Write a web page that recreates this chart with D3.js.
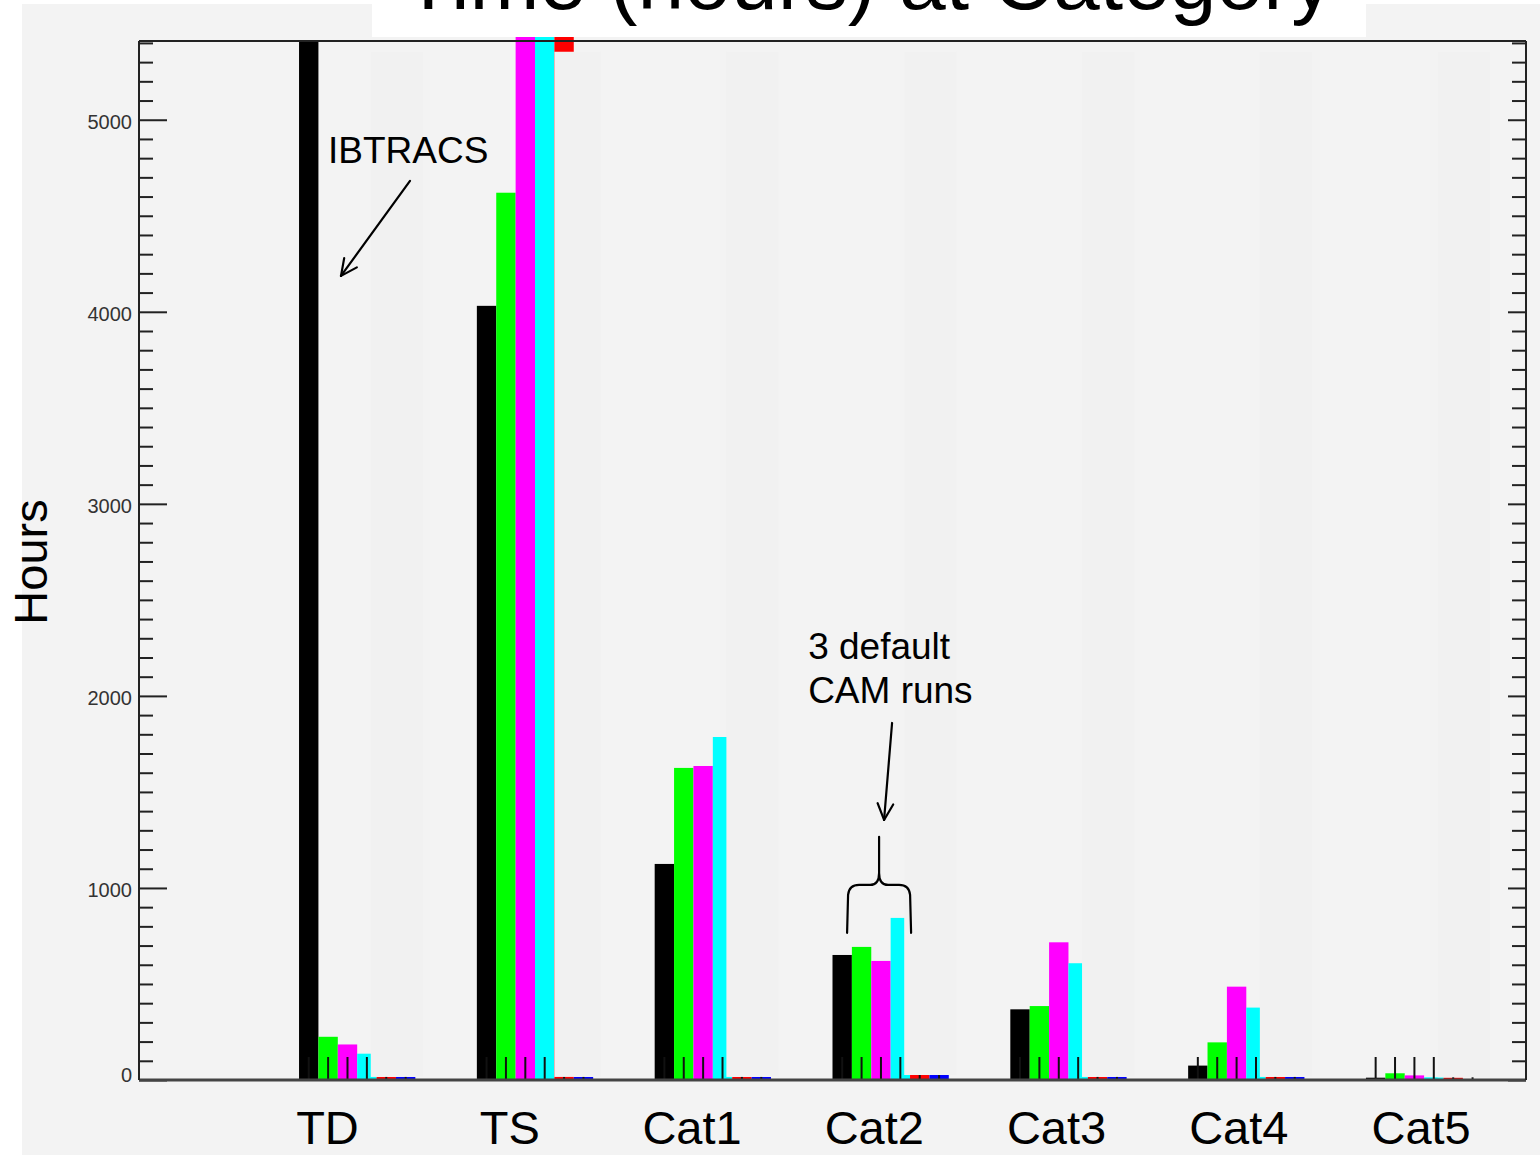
<!DOCTYPE html>
<html>
<head>
<meta charset="utf-8">
<script src="https://cdn.jsdelivr.net/npm/d3@7"></script>
<style>
  html, body { margin: 0; padding: 0; background: #ffffff; }
  svg { display: block; }
</style>
</head>
<body>
<script>
// ---- data -------------------------------------------------------------
const categories = ["TD", "TS", "Cat1", "Cat2", "Cat3", "Cat4", "Cat5"];

// hours spent in each intensity category
const ibtracs   = [5410, 4031, 1125, 651, 368, 75, 12];
const camRun1   = [225, 4620, 1625, 693, 385, 196, 35];
const camRun2   = [185, 5700, 1635, 620, 717, 486, 24];
const camRun3   = [137, 5700, 1786, 844, 608, 377, 14];
const extraRunA = [16, 5700, 16, 26, 16, 16, 12];
const extraRunB = [16, 16, 16, 26, 16, 16, 0];

const seriesValues = [ibtracs, camRun1, camRun2, camRun3, extraRunA, extraRunB];
const seriesColors = ["#000000", "#00ff00", "#ff00ff", "#00ffff", "#ff0000", "#0000ff"];

const yMajorTicks = [0, 1000, 2000, 3000, 4000, 5000];
const yMinorStep = 100;
const yMax = 5410;

// ---- layout -----------------------------------------------------------
const W = 1540, H = 1155;
const plot = { left: 139, right: 1526, top: 41, bottom: 1080 };
const barFrac = 0.109;           // width of one bar in category units
const font = "'Liberation Sans', Arial, Helvetica, sans-serif";

const svg = d3.select("body").append("svg")
  .attr("width", W).attr("height", H);

// page background: white margin at top/left, light grey slide
svg.append("rect").attr("width", W).attr("height", H).attr("fill", "#ffffff");
svg.append("rect").attr("x", 22).attr("y", 4).attr("width", W - 22).attr("height", H - 4)
  .attr("fill", "#f3f3f3");

const x = d3.scaleLinear().domain([-0.9, 6.9]).range([plot.left, plot.right]);
const y = d3.scaleLinear().domain([0, yMax]).range([plot.bottom, plot.top]);
const bw = x(barFrac) - x(0);

// clip bars to the plot image area (the title box sits above it)
svg.append("defs").append("clipPath").attr("id", "barClip")
  .append("rect")
  .attr("x", plot.left).attr("y", 37)
  .attr("width", plot.right - plot.left).attr("height", plot.bottom - 37);

const bars = [];
categories.forEach((c, i) => {
  seriesValues.forEach((vals, s) => {
    bars.push({ cat: c, i, s, v: vals[i] });
  });
});

const gBars = svg.append("g").attr("clip-path", "url(#barClip)");
gBars.selectAll("rect.bar").data(bars).join("rect")
  .attr("class", "bar")
  .attr("x", d => x(d.i + d.s * barFrac))
  .attr("width", bw)
  .attr("y", d => y(d.v))
  .attr("height", d => y(0) - y(d.v))
  .attr("fill", d => seriesColors[d.s]);

// short histogram ticks at the centre of every bar
gBars.selectAll("line.binTick").data(bars).join("line")
  .attr("class", "binTick")
  .attr("x1", d => x(d.i + (d.s + 0.5) * barFrac))
  .attr("x2", d => x(d.i + (d.s + 0.5) * barFrac))
  .attr("y1", plot.bottom)
  .attr("y2", plot.bottom - 23)
  .attr("stroke", "#111")
  .attr("stroke-width", 2);

// grey panels laid over the extra runs, leaving only thin slivers
const panelTop = 5354;
const panelStart = i => (extraRunA[i] > yMax ? 4 : 3.7) * barFrac;
gBars.selectAll("rect.panel").data(categories).join("rect")
  .attr("class", "panel")
  .attr("x", (c, i) => x(i + panelStart(i)))
  .attr("width", (c, i) => x(i + 6.4 * barFrac) - x(i + panelStart(i)))
  .attr("y", y(panelTop))
  .attr("height", (c, i) => y(Math.max(extraRunB[i], 14)) - y(panelTop))
  .attr("fill", "#f1f1f1");

// ---- axes -------------------------------------------------------------
const axisColor = "#222";
const minorTicks = d3.range(0, yMax, yMinorStep).filter(v => v % 1000 !== 0);

const leftMajor = svg.append("g").attr("transform", `translate(${plot.left},0)`)
  .call(d3.axisLeft(y).tickValues(yMajorTicks).tickSize(-28).tickPadding(7)
    .tickFormat(d3.format("d")));
const leftMinor = svg.append("g").attr("transform", `translate(${plot.left},0)`)
  .call(d3.axisLeft(y).tickValues(minorTicks).tickSize(-14).tickFormat(""));
const rightMajor = svg.append("g").attr("transform", `translate(${plot.right},0)`)
  .call(d3.axisRight(y).tickValues(yMajorTicks).tickSize(-18).tickFormat(""));
const rightMinor = svg.append("g").attr("transform", `translate(${plot.right},0)`)
  .call(d3.axisRight(y).tickValues(minorTicks).tickSize(-14).tickFormat(""));

[leftMajor, leftMinor, rightMajor, rightMinor].forEach(g => {
  g.select(".domain").remove();
  g.selectAll(".tick line").attr("stroke", axisColor).attr("stroke-width", 2);
});
leftMajor.selectAll(".tick text")
  .attr("font-family", font).attr("font-size", 20).attr("fill", "#333")
  .attr("dy", d => (d === 0 ? "0.05em" : "0.42em"));

// plot frame
const frame = svg.append("g").attr("fill", "none").attr("stroke", axisColor).attr("stroke-width", 2);
frame.append("line").attr("x1", plot.left).attr("x2", plot.right).attr("y1", plot.top).attr("y2", plot.top);
frame.append("line").attr("x1", plot.left).attr("x2", plot.right).attr("y1", plot.bottom).attr("y2", plot.bottom)
  .attr("stroke", "#444").attr("stroke-width", 3);
frame.append("line").attr("x1", plot.left).attr("x2", plot.left).attr("y1", plot.top).attr("y2", plot.bottom);
frame.append("line").attr("x1", plot.right).attr("x2", plot.right).attr("y1", plot.top).attr("y2", plot.bottom);

// category labels
const labelX = d3.scalePoint().domain(categories).range([x(0.16), x(6.31)]);
svg.append("g").selectAll("text").data(categories).join("text")
  .attr("x", d => labelX(d))
  .attr("y", 1144)
  .attr("text-anchor", "middle")
  .attr("font-family", font).attr("font-size", 47).attr("fill", "#000")
  .text(d => d);

// y title
svg.append("text")
  .attr("transform", "translate(47,562) rotate(-90)")
  .attr("text-anchor", "middle")
  .attr("font-family", font).attr("font-size", 47).attr("fill", "#000")
  .text("Hours");

// chart title on its white box
svg.append("rect").attr("x", 372).attr("y", 0).attr("width", 994).attr("height", 37).attr("fill", "#ffffff");
svg.append("text")
  .attr("x", 868).attr("y", 9)
  .attr("text-anchor", "middle")
  .attr("font-family", font).attr("font-size", 84).attr("fill", "#000")
  .text("Time (hours) at Category");

// ---- annotations ------------------------------------------------------
const ann = svg.append("g").attr("fill", "none").attr("stroke", "#000")
  .attr("stroke-width", 2.2).attr("stroke-linecap", "round");

function arrow(x1, y1, x2, y2) {
  ann.append("line").attr("x1", x1).attr("y1", y1).attr("x2", x2).attr("y2", y2);
  const a = Math.atan2(y2 - y1, x2 - x1), L = 18, spread = 0.45;
  [a + Math.PI - spread, a + Math.PI + spread].forEach(t => {
    ann.append("line").attr("x1", x2).attr("y1", y2)
      .attr("x2", x2 + L * Math.cos(t)).attr("y2", y2 + L * Math.sin(t));
  });
}

svg.append("text")
  .attr("x", x(0.163)).attr("y", y(4776))
  .attr("font-family", font).attr("font-size", 37).attr("fill", "#000")
  .text("IBTRACS");
arrow(x(0.624), y(4682), x(0.236), y(4187));

const camText = svg.append("text")
  .attr("font-family", font).attr("font-size", 37).attr("fill", "#000");
camText.append("tspan").attr("x", x(2.863)).attr("y", y(2193)).text("3 default");
camText.append("tspan").attr("x", x(2.863)).attr("dy", 44).text("CAM runs");
arrow(x(3.335), y(1859), x(3.29), y(1354));

// curly brace over the three runs of Cat2
const bx = x(3.262), bl = x(3.082), br = x(3.442);
const bTop = y(1266), bMid = y(1016), bEnd = y(766);
ann.append("path").attr("d", [
  `M${bl},${bEnd}`,
  `L${bl + 1},${bMid + 10}`,
  `Q${bl + 2},${bMid} ${bl + 12},${bMid}`,
  `L${bx - 9},${bMid}`,
  `Q${bx},${bMid} ${bx},${bMid - 12}`,
  `L${bx},${bTop}`,
  `M${bx},${bMid - 12}`,
  `Q${bx},${bMid} ${bx + 9},${bMid}`,
  `L${br - 12},${bMid}`,
  `Q${br - 2},${bMid} ${br - 1},${bMid + 10}`,
  `L${br},${bEnd}`
].join(" "));
</script>
</body>
</html>
